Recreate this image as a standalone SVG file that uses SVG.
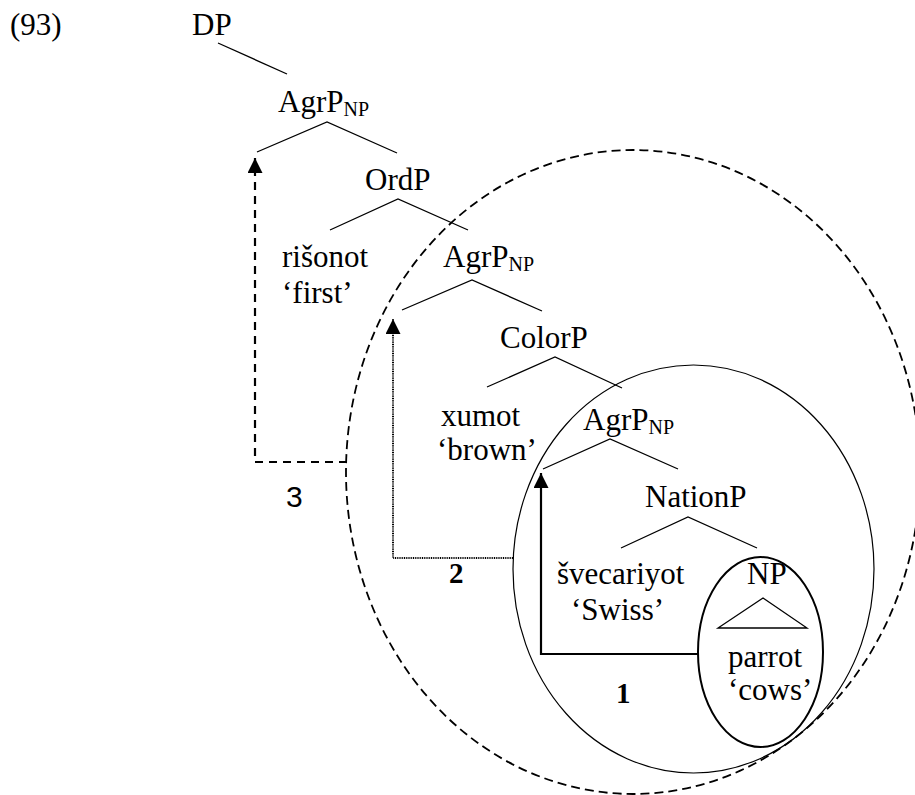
<svg xmlns="http://www.w3.org/2000/svg" width="915" height="795" viewBox="0 0 915 795">
  <style>
    text { font-family: "Liberation Serif", "Times New Roman", serif; font-size: 31px; fill: #000; }
    .sub { font-size: 20px; }
    .num { font-weight: bold; font-size: 29px; }
    .num3 { font-family: "Liberation Sans", Arial, sans-serif; font-size: 30px; }
    .branch { fill: none; stroke: #000; stroke-width: 1.3; }
    .move1 { fill: none; stroke: #000; stroke-width: 2.2; }
    .move2 { fill: none; stroke: #000; stroke-width: 2; stroke-dasharray: 1 0.8; }
    .move3 { fill: none; stroke: #000; stroke-width: 2.2; stroke-dasharray: 8 6; }
    .domain-outer { fill: none; stroke: #000; stroke-width: 1.8; stroke-dasharray: 9 5; }
    .domain-mid { fill: none; stroke: #000; stroke-width: 1.2; }
    .domain-np { fill: none; stroke: #000; stroke-width: 2; }
  </style>
  <defs>
    <marker id="head" markerUnits="userSpaceOnUse" markerWidth="15" markerHeight="15" refX="15" refY="7.5" orient="auto">
      <path d="M0,0 L15,7.5 L0,15 z" fill="#000"/>
    </marker>
  </defs>

  <rect width="915" height="795" fill="#fff"/>

  <!-- example number -->
  <text x="10" y="35">(93)</text>

  <!-- movement domains -->
  <g id="domains">
    <ellipse class="domain-outer" cx="633" cy="472" rx="287" ry="322"/>
    <ellipse class="domain-mid" cx="693.5" cy="569" rx="180.5" ry="204"/>
    <ellipse class="domain-np" cx="760.5" cy="652" rx="62.5" ry="95"/>
  </g>

  <!-- tree nodes -->
  <g id="dp"><text x="192" y="35">DP</text></g>
  <g id="agrp1"><text x="278" y="112">AgrP<tspan class="sub" dy="4">NP</tspan></text></g>
  <g id="ordp"><text x="365" y="190">OrdP</text></g>
  <g id="risonot">
    <text x="282" y="267">rišonot</text>
    <text x="282" y="303">‘first’</text>
  </g>
  <g id="agrp2"><text x="443" y="267">AgrP<tspan class="sub" dy="4">NP</tspan></text></g>
  <g id="colorp"><text x="500" y="348">ColorP</text></g>
  <g id="xumot">
    <text x="441" y="426">xumot</text>
    <text x="437" y="460">‘brown’</text>
  </g>
  <g id="agrp3"><text x="583" y="430">AgrP<tspan class="sub" dy="4">NP</tspan></text></g>
  <g id="nationp"><text x="645" y="507">NationP</text></g>
  <g id="svecariyot">
    <text x="557" y="584">švecariyot</text>
    <text x="571" y="620">‘Swiss’</text>
  </g>
  <g id="np"><text x="747" y="584">NP</text></g>
  <g id="parrot">
    <text x="728" y="667">parrot</text>
    <text x="728" y="700">‘cows’</text>
  </g>

  <!-- branches and movement arrows -->
  <g id="connectors">
    <path class="branch" d="M218,43 L287,74"/>
    <path class="branch" d="M257,152 L327,122 L397,153"/>
    <path class="branch" d="M330,230 L398,199 L468,230"/>
    <path class="branch" d="M402,310 L472,280 L542,311"/>
    <path class="branch" d="M487,387 L555,357 L622,388"/>
    <path class="branch" d="M543,469 L610,439 L678,469"/>
    <path class="branch" d="M621,548 L688,517 L757,548"/>
    <path class="branch" d="M763,598 L718,628 L807,628 Z"/>

    <path class="move1" d="M698,654 H541 V473" marker-end="url(#head)"/>
    <path class="move2" d="M513,558 H393 V319" marker-end="url(#head)"/>
    <path class="move3" d="M347,462 H255 V158" marker-end="url(#head)"/>
  </g>

  <!-- step labels -->
  <g id="labels">
    <text class="num" x="616" y="703">1</text>
    <text class="num" x="449" y="583">2</text>
    <text class="num3" x="286" y="507">3</text>
  </g>
</svg>
